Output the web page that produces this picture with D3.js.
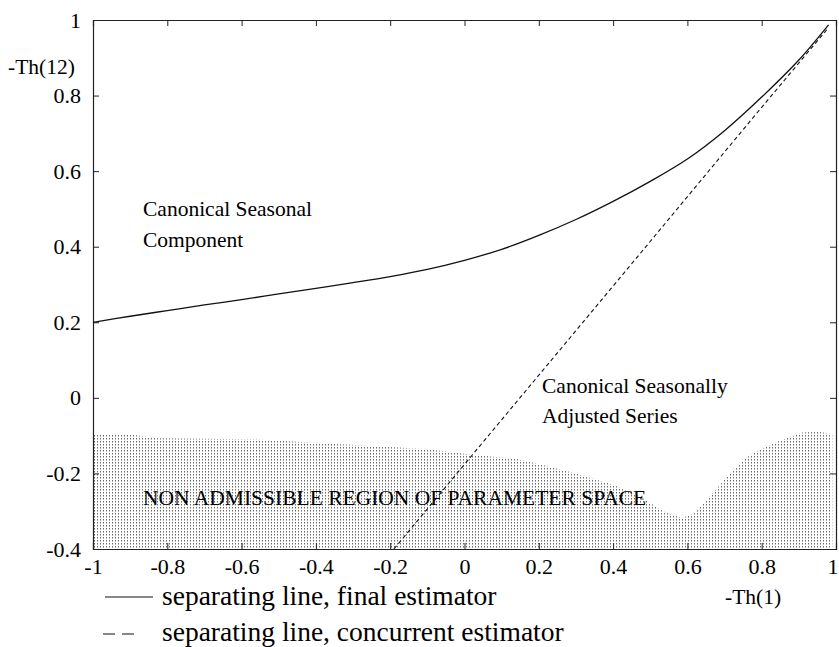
<!DOCTYPE html>
<html>
<head>
<meta charset="utf-8">
<script src="https://cdn.jsdelivr.net/npm/d3@7"></script>
<style>
  html, body { margin: 0; padding: 0; background: #fff; }
  svg { display: block; }
  text { font-family: "Liberation Serif", Tinos, "Times New Roman", Times, "DejaVu Serif", serif; fill: #000; }
</style>
</head>
<body>
<svg id="chart" width="839" height="647"></svg>
<script>
// -Th(1) values and the separating line for the final estimator
const finalX = [-1, -0.9, -0.8, -0.7, -0.6, -0.5, -0.4, -0.3, -0.2, -0.1, 0, 0.1, 0.2, 0.3, 0.4, 0.5, 0.6, 0.7, 0.8, 0.9, 0.98];
const finalY = [0.2, 0.216, 0.231, 0.246, 0.26, 0.275, 0.29, 0.305, 0.321, 0.34, 0.364, 0.393, 0.43, 0.472, 0.52, 0.573, 0.632, 0.707, 0.796, 0.894, 0.987];

// separating line for the concurrent estimator
const concX = [-0.19, 0.423, 0.8, 0.98];
const concY = [-0.4, 0.323, 0.769, 0.98];

// upper edge of the non admissible region
const regionX = [-1, -0.93, -0.87, -0.83, -0.7, -0.56, -0.47, -0.38, -0.2, -0.1, 0, 0.07, 0.13, 0.2, 0.3, 0.4, 0.47, 0.535, 0.585, 0.62, 0.67, 0.72, 0.76, 0.8, 0.85, 0.91, 0.95, 0.99];
const regionY = [-0.096, -0.095, -0.1, -0.107, -0.108, -0.11, -0.115, -0.12, -0.13, -0.136, -0.148, -0.155, -0.16, -0.175, -0.2, -0.23, -0.26, -0.3, -0.318, -0.305, -0.25, -0.195, -0.157, -0.135, -0.113, -0.092, -0.09, -0.095];

const xTicks = [-1, -0.8, -0.6, -0.4, -0.2, 0, 0.2, 0.4, 0.6, 0.8, 1];
const yTicks = [-0.4, -0.2, 0, 0.2, 0.4, 0.6, 0.8, 1];
const xTickLabels = ["-1", "-0.8", "-0.6", "-0.4", "-0.2", "0", "0.2", "0.4", "0.6", "0.8", "1"];
const yTickLabels = ["-0.4", "-0.2", "0", "0.2", "0.4", "0.6", "0.8", "1"];

const serif = '"Liberation Serif", Tinos, "Times New Roman", Times, "DejaVu Serif", serif';
const svg = d3.select("#chart");
const plotLeft = 93, plotRight = 836, plotTop = 20, plotBottom = 549;

const x = d3.scaleLinear().domain([-1, 1]).range([plotLeft, plotRight]);
const y = d3.scaleLinear().domain([-0.4, 1]).range([plotBottom, plotTop]);

// dotted fill for the region
const defs = svg.append("defs");
const pat = defs.append("pattern")
  .attr("id", "dots").attr("patternUnits", "userSpaceOnUse")
  .attr("width", 3).attr("height", 3);
pat.append("rect").attr("x", 1).attr("y", 0).attr("width", 1).attr("height", 1.5).attr("fill", "#6a6a6a");

const region = regionX.map((v, i) => [v, regionY[i]]);
const area = d3.area()
  .x(d => x(d[0]))
  .y0(y(-0.4))
  .y1(d => y(d[1]))
  .curve(d3.curveLinear);
svg.append("path").datum(region)
  .attr("d", area)
  .attr("fill", "url(#dots)");

// axes: ticks point inward on all four sides
const tickLen = 6;
const fmtX = d => xTickLabels[xTicks.indexOf(d)];
const fmtY = d => yTickLabels[yTicks.indexOf(d)];

const axB = svg.append("g").attr("transform", `translate(0,${plotBottom})`)
  .call(d3.axisBottom(x).tickValues(xTicks).tickSize(-tickLen).tickPadding(9).tickFormat(fmtX));
const axT = svg.append("g").attr("transform", `translate(0,${plotTop})`)
  .call(d3.axisTop(x).tickValues(xTicks).tickSize(-tickLen).tickFormat(""));
const axL = svg.append("g").attr("transform", `translate(${plotLeft},0)`)
  .call(d3.axisLeft(y).tickValues(yTicks).tickSize(-tickLen).tickPadding(12).tickFormat(fmtY));
const axR = svg.append("g").attr("transform", `translate(${plotRight},0)`)
  .call(d3.axisRight(y).tickValues(yTicks).tickSize(-tickLen).tickFormat(""));

[axB, axT, axL, axR].forEach(g => {
  g.attr("font-family", null).attr("font-size", null);
  g.select(".domain").attr("stroke", "#222").attr("stroke-width", 1.2);
  g.selectAll(".tick line").attr("stroke", "#222").attr("stroke-width", 1);
  g.selectAll(".tick text")
    .style("font-family", serif)
    .style("font-size", "22px").attr("fill", "#000");
});
axB.selectAll(".tick text").attr("dy", "0.71em");
// keep the last bottom label inside the page edge
axB.selectAll(".tick text").filter(d => d === 1).attr("text-anchor", "end").attr("dx", "2");

// separating lines
const line = d3.line().x(d => x(d[0])).y(d => y(d[1])).curve(d3.curveCatmullRom);
svg.append("path").datum(finalX.map((v, i) => [v, finalY[i]]))
  .attr("d", line).attr("fill", "none").attr("stroke", "#111").attr("stroke-width", 1.3);

const straight = d3.line().x(d => x(d[0])).y(d => y(d[1]));
svg.append("path").datum(concX.map((v, i) => [v, concY[i]]))
  .attr("d", straight).attr("fill", "none").attr("stroke", "#111")
  .attr("stroke-width", 1.1).attr("stroke-dasharray", "4,3");

// annotations
const note = (tx, ty, s) => svg.append("text").attr("x", tx).attr("y", ty)
  .style("font-family", serif).style("font-size", "21.5px").text(s);
note(143, 216, "Canonical Seasonal");
note(143, 247, "Component");
note(542, 393, "Canonical Seasonally");
note(542, 423, "Adjusted Series");
note(143, 505, "NON ADMISSIBLE REGION OF PARAMETER SPACE");

// axis titles
note(8, 74, "-Th(12)");
note(725, 604, "-Th(1)");

// legend
const legend = svg.append("g");
legend.append("line").attr("x1", 105).attr("x2", 153).attr("y1", 597).attr("y2", 597)
  .attr("stroke", "#111").attr("stroke-width", 1.2);
legend.append("text").attr("x", 162).attr("y", 605)
  .style("font-family", serif).style("font-size", "27.5px")
  .text("separating line, final estimator");
legend.append("line").attr("x1", 103).attr("x2", 134).attr("y1", 634).attr("y2", 634)
  .attr("stroke", "#111").attr("stroke-width", 1.2).attr("stroke-dasharray", "12,7");
legend.append("text").attr("x", 162).attr("y", 641)
  .style("font-family", serif).style("font-size", "27.5px")
  .text("separating line, concurrent estimator");
</script>
</body>
</html>
